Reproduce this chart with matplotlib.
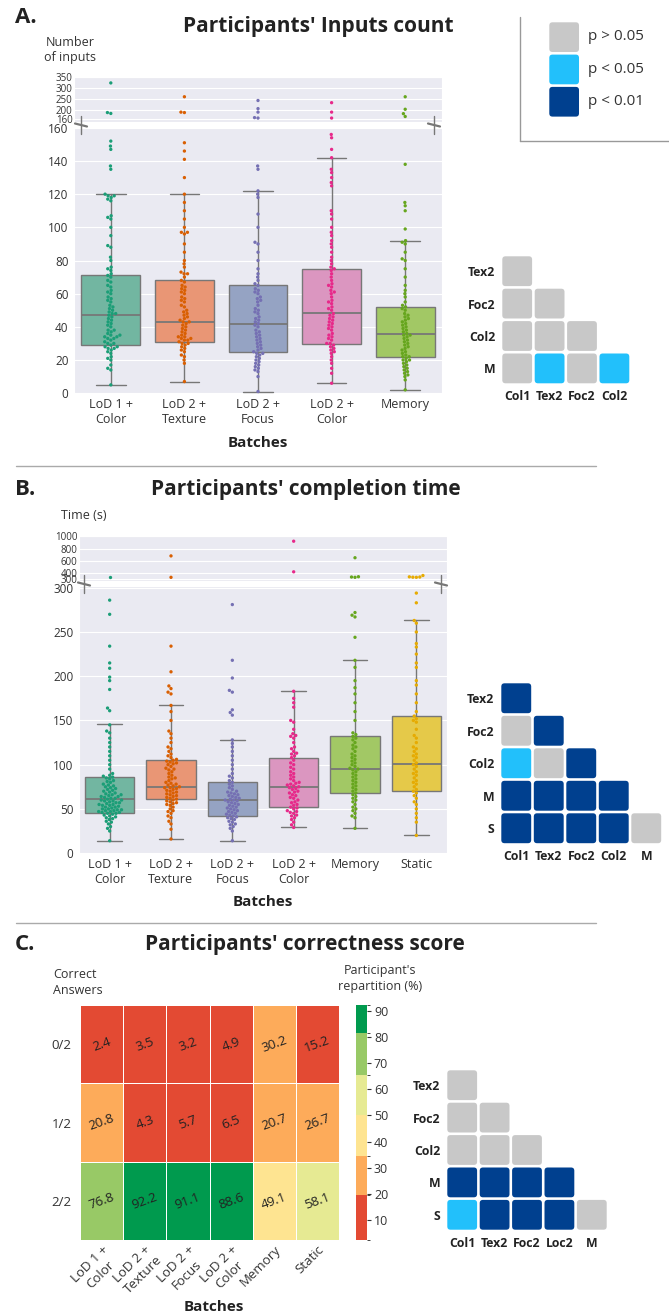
import matplotlib
matplotlib.use('Agg')
import matplotlib.pyplot as plt
import numpy as np
import pandas as pd
import seaborn as sns
from matplotlib.colors import ListedColormap, BoundaryNorm
from matplotlib.patches import FancyBboxPatch
from matplotlib.lines import Line2D

# ---------------- data ----------------
batches = ['LoD 1 +\nColor', 'LoD 2 +\nTexture', 'LoD 2 +\nFocus', 'LoD 2 +\nColor', 'Memory', 'Static']

# panel A: number of inputs per participant
inputs_col1 = [5, 14, 15, 17, 20, 21, 22, 24, 25, 26, 27, 27, 28, 28, 29, 30, 30, 31, 32, 33, 33, 34, 34, 35,
               35, 36, 37, 38, 38, 40, 41, 42, 43, 44, 45, 46, 47, 48, 48, 49, 50, 51, 52, 53, 55, 56, 57, 58,
               60, 61, 62, 64, 65, 67, 68, 70, 71, 72, 74, 75, 76, 80, 82, 88, 89, 95, 100, 105, 106, 107, 116,
               117, 118, 119, 119, 120, 135, 137, 147, 149, 152, 186, 190, 325]
inputs_tex2 = [7, 18, 20, 22, 23, 25, 26, 27, 28, 29, 30, 30, 31, 32, 32, 33, 33, 34, 34, 35, 36, 37, 38, 39,
               40, 41, 42, 43, 43, 44, 45, 46, 47, 48, 49, 50, 52, 53, 55, 56, 57, 58, 60, 61, 62, 63, 64, 65,
               67, 68, 70, 72, 72, 73, 76, 78, 80, 85, 90, 96, 97, 97, 100, 105, 110, 115, 120, 130, 141, 146,
               151, 190, 192, 262]
inputs_foc2 = [1, 10, 13, 14, 15, 16, 17, 18, 19, 20, 21, 22, 23, 24, 24, 25, 26, 27, 28, 29, 30, 31, 32, 33,
               34, 35, 36, 37, 38, 40, 41, 42, 43, 44, 45, 46, 48, 49, 50, 51, 53, 55, 56, 57, 58, 60, 61, 62,
               63, 65, 66, 68, 70, 72, 75, 80, 85, 90, 91, 100, 108, 118, 120, 122, 135, 137, 165, 167, 192,
               208, 245]
inputs_col2 = [6, 12, 15, 18, 20, 22, 24, 25, 26, 27, 28, 29, 30, 30, 32, 33, 34, 35, 36, 38, 39, 40, 41, 42,
               43, 44, 45, 46, 47, 48, 50, 51, 52, 54, 55, 56, 58, 60, 61, 62, 64, 65, 66, 68, 70, 72, 74, 75,
               76, 78, 80, 82, 85, 88, 90, 92, 95, 97, 100, 105, 108, 110, 125, 127, 130, 133, 135, 142, 147,
               154, 156, 165, 192, 235]
inputs_mem = [2, 8, 10, 11, 12, 13, 14, 15, 16, 17, 18, 19, 20, 20, 21, 22, 22, 23, 24, 25, 26, 27, 28, 29,
              30, 31, 32, 33, 34, 35, 35, 36, 37, 38, 39, 40, 41, 42, 43, 44, 45, 46, 47, 48, 50, 51, 52, 53,
              55, 58, 60, 62, 65, 70, 75, 80, 81, 85, 90, 91, 92, 99, 110, 113, 115, 138, 172, 185, 205, 262]
# whislo, q1, median, q3, whishi
inputs_stats = [(5, 29, 47, 71, 120), (7, 31, 43, 68, 120), (1, 25, 42, 65, 122),
                (6, 29.5, 48.5, 75, 142), (2, 22, 35.5, 52, 92)]

# panel B: completion time (s)
time_col1 = [14, 25, 28, 30, 33, 35, 36, 38, 39, 40, 41, 42, 43, 44, 45, 45, 46, 46, 47, 47, 48, 48, 49, 49,
             50, 50, 51, 52, 52, 53, 54, 54, 55, 55, 56, 57, 57, 58, 59, 59, 60, 60, 61, 62, 62, 63, 64, 64,
             65, 66, 66, 67, 68, 69, 70, 71, 72, 73, 74, 75, 76, 77, 78, 80, 81, 82, 84, 85, 86, 87, 88, 90,
             95, 100, 105, 110, 115, 120, 125, 130, 136, 138, 145, 161, 164, 185, 195, 199, 209, 215, 234,
             270, 286, 330]
time_tex2 = [16, 27, 33, 36, 40, 42, 45, 47, 48, 50, 52, 54, 55, 56, 57, 58, 59, 60, 61, 62, 63, 64, 65, 66,
             67, 68, 69, 70, 71, 72, 73, 74, 74, 75, 76, 77, 78, 79, 80, 82, 84, 85, 86, 88, 90, 92, 94, 95,
             96, 98, 100, 101, 102, 103, 104, 105, 106, 108, 110, 112, 115, 118, 120, 125, 130, 135, 138,
             150, 160, 167, 180, 182, 186, 189, 205, 234, 330, 680]
time_foc2 = [14, 25, 28, 30, 32, 33, 35, 36, 38, 39, 40, 41, 42, 43, 44, 45, 46, 47, 48, 49, 50, 51, 52, 53,
             54, 55, 56, 57, 58, 59, 60, 60, 61, 62, 63, 64, 65, 66, 67, 68, 69, 70, 72, 74, 76, 78, 80, 82,
             85, 87, 90, 95, 100, 105, 110, 115, 120, 124, 128, 156, 159, 162, 182, 184, 198, 218, 281]
time_col2 = [29, 32, 35, 38, 40, 42, 43, 45, 46, 47, 48, 50, 51, 52, 54, 55, 57, 58, 60, 62, 63, 65, 66, 68,
             69, 70, 72, 73, 74, 75, 76, 77, 78, 79, 80, 82, 84, 86, 88, 90, 92, 95, 97, 100, 102, 105, 108,
             110, 112, 113, 115, 118, 120, 125, 130, 132, 133, 135, 140, 148, 150, 165, 170, 175, 183, 420, 920]
time_mem = [28, 40, 42, 45, 48, 50, 52, 55, 58, 60, 62, 64, 66, 68, 70, 72, 74, 76, 78, 80, 82, 84, 86, 88,
            90, 92, 94, 95, 96, 98, 100, 102, 104, 106, 108, 110, 112, 115, 118, 120, 122, 125, 128, 130, 132,
            134, 136, 150, 160, 170, 180, 187, 195, 210, 218, 244, 267, 269, 272, 330, 335, 340, 650]
time_static = [20, 35, 40, 45, 50, 55, 58, 62, 65, 68, 70, 72, 75, 78, 80, 82, 85, 88, 90, 92, 95, 98, 100,
               102, 105, 108, 110, 112, 115, 118, 120, 125, 130, 133, 140, 148, 150, 152, 155, 160, 170, 180,
               190, 195, 210, 215, 225, 233, 237, 250, 260, 263, 283, 294, 330, 332, 335, 338, 360]
time_stats = [(14, 45.5, 61, 86.5, 146), (16, 61, 75, 105.5, 168), (14, 42.5, 60, 80, 128),
              (29, 52, 75, 108, 183), (28, 68.5, 95.5, 132, 218), (20, 70.5, 101, 155.5, 263)]

# panel C: correctness score (% of participants)
score_rows = ['0/2', '1/2', '2/2']
score = [[2.4, 3.5, 3.2, 4.9, 30.2, 15.2],
         [20.8, 4.3, 5.7, 6.5, 20.7, 26.7],
         [76.8, 92.2, 91.1, 88.6, 49.1, 58.1]]
score_bounds = [2.4, 19.5, 34.5, 50, 65.5, 81.5, 92.2]

# significance matrices: 0 p>0.05, 1 p<0.05, 2 p<0.01
sig_a = [[0], [0, 0], [0, 0, 0], [0, 1, 0, 1]]
sig_a_rows = ['Tex2', 'Foc2', 'Col2', 'M']
sig_a_cols = ['Col1', 'Tex2', 'Foc2', 'Col2']
sig_b = [[2], [0, 2], [1, 0, 2], [2, 2, 2, 2], [2, 2, 2, 2, 0]]
sig_b_rows = ['Tex2', 'Foc2', 'Col2', 'M', 'S']
sig_b_cols = ['Col1', 'Tex2', 'Foc2', 'Col2', 'M']
sig_c = [[0], [0, 0], [0, 0, 0], [2, 2, 2, 2], [1, 2, 2, 2, 0]]
sig_c_rows = ['Tex2', 'Foc2', 'Col2', 'M', 'S']
sig_c_cols = ['Col1', 'Tex2', 'Foc2', 'Loc2', 'M']
legend_labels = ['p > 0.05', 'p < 0.05', 'p < 0.01']

# ---------------- style ----------------
sns.set_style('darkgrid')
plt.rcParams['font.family'] = ['Open Sans', 'DejaVu Sans']

dark2 = ['#1b9e77', '#d95f02', '#7570b3', '#e7298a', '#66a61e', '#e6ab02']
set2 = ['#66c2a5', '#fc8d62', '#8da0cb', '#e78ac3', '#a6d854', '#ffd92f']
sig_colors = ['#c8c8c8', '#22c0fb', '#00408f']
heat_colors = ['#e34a33', '#fdab5a', '#fee491', '#e6ea93', '#98c966', '#009a4e']
txt = '#333333'
line_col = '#777777'

W, H = 669, 1315
fig = plt.figure(figsize=(W / 100, H / 100), dpi=100)


def rect(x0, y0, x1, y1):
    return [x0 / W, 1 - y1 / H, (x1 - x0) / W, (y1 - y0) / H]


def ftext(x, y, s, **kw):
    kw.setdefault('color', txt)
    fig.text(x / W, 1 - y / H, s, **kw)


def fline(xs, ys, **kw):
    fig.add_artist(Line2D([x / W for x in xs], [1 - y / H for y in ys],
                          transform=fig.transFigure, **kw))


def broken_box(top_r, bot_r, values, stats, cut, top_lim, top_ticks, bot_lim, bot_ticks, marks):
    n = len(values)
    names = batches[:n]
    ax_t = fig.add_axes(rect(*top_r))
    ax_b = fig.add_axes(rect(*bot_r))

    bstats = [dict(whislo=s[0], q1=s[1], med=s[2], q3=s[3], whishi=s[4], label='') for s in stats]
    bp = ax_b.bxp(bstats, positions=range(n), widths=0.8, patch_artist=True, showfliers=False,
                  boxprops=dict(edgecolor=line_col, linewidth=1),
                  whiskerprops=dict(color=line_col, linewidth=1),
                  capprops=dict(color=line_col, linewidth=1),
                  medianprops=dict(color=line_col, linewidth=1.3))
    for patch, c in zip(bp['boxes'], set2[:n]):
        patch.set_facecolor(sns.desaturate(c, 0.75))
        patch.set_zorder(2)

    rows = [(b, v) for b, vals in zip(names, values) for v in vals]
    df = pd.DataFrame(rows, columns=['batch', 'value'])
    for ax, sub in ((ax_b, df[df.value <= cut]), (ax_t, df[df.value > cut])):
        sns.swarmplot(data=sub, x='batch', y='value', order=names, hue='batch', hue_order=names,
                      palette=dark2[:n], size=2.4, ax=ax, legend=False, zorder=3)
        ax.set_xlim(-0.5, n - 0.5)
        ax.set_xlabel('')
        ax.set_ylabel('')
        ax.xaxis.grid(False)
        ax.tick_params(axis='y', colors=txt, length=0)

    ax_t.set_ylim(*top_lim)
    ax_t.set_yticks(top_ticks)
    ax_t.tick_params(axis='y', labelsize=7, pad=1)
    ax_t.set_xticks(range(n))
    ax_t.tick_params(axis='x', labelbottom=False, length=0)

    ax_b.set_ylim(*bot_lim)
    ax_b.set_yticks(bot_ticks)
    ax_b.tick_params(axis='y', labelsize=8.5, pad=4)
    ax_b.set_xticks(range(n), names)
    ax_b.tick_params(axis='x', labelsize=9, colors=txt, length=0, pad=3)

    # broken axis marks
    for (mx, my) in marks:
        fline([mx, mx], [my - 9, my + 9], color='#777777', lw=1)
        fline([mx - 6, mx + 6], [my - 1.5, my + 1.5], color='#777777', lw=1.6)
    return ax_t, ax_b


def pmatrix(x0, y0, pitch, mat, ncols, nrows, rows=None, cols=None):
    ax = fig.add_axes(rect(x0, y0, x0 + ncols * pitch, y0 + nrows * pitch))
    ax.set_xlim(0, ncols)
    ax.set_ylim(nrows, 0)
    for i, row in enumerate(mat):
        for j, v in enumerate(row):
            ax.add_patch(FancyBboxPatch((j + 0.04, i + 0.04), 0.92, 0.92,
                                        boxstyle='round,pad=0,rounding_size=0.1',
                                        fc=sig_colors[v], ec='none'))
    ax.set_facecolor('none')
    ax.grid(False)
    for s in ax.spines.values():
        s.set_visible(False)
    if rows is None:
        ax.set_xticks([])
        ax.set_yticks([])
    else:
        ax.set_xticks(np.arange(ncols) + 0.5, cols)
        ax.set_yticks(np.arange(nrows) + 0.5, rows)
        ax.tick_params(length=0, labelsize=8.8, colors='#222222', pad=4)
        for lab in ax.get_xticklabels() + ax.get_yticklabels():
            lab.set_fontweight('bold')
    return ax


# ---------------- panel A ----------------
ftext(15, 23, 'A.', fontsize=16, fontweight='bold', color='#222222', va='baseline')
ftext(318, 32, "Participants' Inputs count", fontsize=15, fontweight='bold', color='#222222',
      ha='center', va='baseline')
ftext(70, 46, 'Number', fontsize=9, ha='center', va='baseline')
ftext(70, 61, 'of inputs', fontsize=9, ha='center', va='baseline')
broken_box((74, 77, 442, 122), (74, 127, 442, 394),
           [inputs_col1, inputs_tex2, inputs_foc2, inputs_col2, inputs_mem], inputs_stats,
           160, (147, 352), [160, 200, 250, 300, 350], (-0.5, 160.5), range(0, 161, 20),
           [(81, 125), (434, 125)])
ftext(258, 443, 'Batches', fontsize=11, fontweight='bold', color='#222222', ha='center', va='center')

# legend box
fline([520, 520], [17, 141], color='#999999', lw=1)
fline([520, 669], [141, 141], color='#999999', lw=1)
pmatrix(548, 21, 32.3, [[0], [1], [2]], 1, 3)
for k, lab in enumerate(legend_labels):
    ftext(588, 37 + k * 32.3, lab, fontsize=11, va='center')

pmatrix(501, 255, 32.4, sig_a, 4, 4, sig_a_rows, sig_a_cols)

fline([16, 596], [466, 466], color='#aaaaaa', lw=1)

# ---------------- panel B ----------------
ftext(15, 495, 'B.', fontsize=16, fontweight='bold', color='#222222', va='baseline')
ftext(306, 495, "Participants' completion time", fontsize=15, fontweight='bold', color='#222222',
      ha='center', va='baseline')
ftext(84, 519, 'Time (s)', fontsize=9, ha='center', va='baseline')
broken_box((79, 536, 447, 581), (79, 586, 447, 854),
           [time_col1, time_tex2, time_foc2, time_col2, time_mem, time_static], time_stats,
           300, (270, 1005), [300, 400, 600, 800, 1000], (-1, 302), range(0, 301, 50),
           [(84, 584), (441, 584)])
ftext(263, 902, 'Batches', fontsize=11, fontweight='bold', color='#222222', ha='center', va='center')

pmatrix(500, 682, 32.5, sig_b, 5, 5, sig_b_rows, sig_b_cols)

fline([16, 596], [923, 923], color='#aaaaaa', lw=1)

# ---------------- panel C ----------------
ftext(15, 950, 'C.', fontsize=16, fontweight='bold', color='#222222', va='baseline')
ftext(305, 950, "Participants' correctness score", fontsize=15, fontweight='bold', color='#222222',
      ha='center', va='baseline')
ftext(53, 978, 'Correct', fontsize=9, va='baseline')
ftext(53, 994, 'Answers', fontsize=9, va='baseline')
ftext(380, 974, "Participant's", fontsize=9, ha='center', va='baseline')
ftext(380, 990, 'repartition (%)', fontsize=9, ha='center', va='baseline')

cmap = ListedColormap(heat_colors)
norm = BoundaryNorm(score_bounds, cmap.N)
ax_h = fig.add_axes(rect(80, 1005, 339, 1240))
mesh = ax_h.pcolormesh(np.array(score), cmap=cmap, norm=norm, edgecolors='white', linewidth=0.7)
ax_h.set_ylim(3, 0)
ax_h.set_xlim(0, 6)
ax_h.grid(False)
for s in ax_h.spines.values():
    s.set_visible(False)
for i, row in enumerate(score):
    for j, v in enumerate(row):
        ax_h.text(j + 0.5, i + 0.5, f'{v:.1f}', ha='center', va='center', rotation=20,
                  fontsize=9.5, color='#222222')
ax_h.set_xticks(np.arange(6) + 0.5)
ax_h.set_xticklabels(batches, rotation=45, ha='right', rotation_mode='anchor', ma='center')
ax_h.set_yticks(np.arange(3) + 0.5, score_rows)
ax_h.tick_params(length=0, labelsize=9.5, colors=txt)
ax_h.tick_params(axis='y', pad=6)
ax_h.tick_params(axis='x', pad=2)
ftext(214, 1307, 'Batches', fontsize=11, fontweight='bold', color='#222222', ha='center', va='center')

cax = fig.add_axes(rect(356, 1005, 367, 1240))
cb = fig.colorbar(mesh, cax=cax, spacing='proportional', ticks=range(10, 91, 10))
cb.outline.set_visible(False)
cax.tick_params(labelsize=9, colors=txt, length=3, width=0.8, pad=2)

pmatrix(446, 1069, 32.4, sig_c, 5, 5, sig_c_rows, sig_c_cols)

fig.savefig('out.png', dpi=100)
